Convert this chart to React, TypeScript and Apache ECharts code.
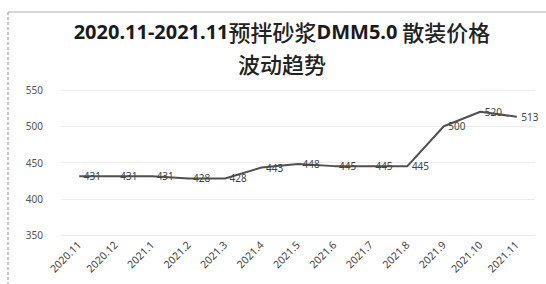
import React, { useEffect, useRef } from "react";
import * as echarts from "echarts";

const categories = [
  "2020.11", "2020.12", "2021.1", "2021.2", "2021.3", "2021.4", "2021.5",
  "2021.6", "2021.7", "2021.8", "2021.9", "2021.10", "2021.11",
];
const prices = [431, 431, 431, 428, 428, 443, 448, 445, 445, 445, 500, 520, 513];
const yMin = 350;
const yMax = 550;
const yStep = 50;

export default function App() {
  const ref = useRef<HTMLDivElement>(null);
  useEffect(() => {
    if (!ref.current) return;
    const chart = echarts.init(ref.current, null, { renderer: "svg" });
    const font = "'Noto Sans', 'Noto Sans CJK SC', sans-serif";
    chart.setOption({
      animation: false,
      backgroundColor: "#ffffff",
      title: {
        left: 277,
        textAlign: "center",
        top: 10,
        text: "{b|2020.11-2021.11}{n|预拌砂浆}{b|DMM5.0}{n| 散装价格}\n{n|波动趋势}",
        textStyle: {
          rich: {
            b: { fontFamily: font, fontWeight: "bold", fontSize: 20, color: "#1a1a1a", lineHeight: 32 },
            n: { fontFamily: "'Noto Sans CJK SC', sans-serif", fontWeight: 500, fontSize: 22, color: "#222", lineHeight: 32 },
          },
        },
      },
      graphic: [
        { type: "line", shape: { x1: 8, y1: 12, x2: 546, y2: 12 }, style: { stroke: "#b0b0b0", lineWidth: 1 } },
        { type: "line", shape: { x1: 8, y1: 12, x2: 8, y2: 284 }, style: { stroke: "#909090", lineWidth: 1, lineDash: [3, 2] } },
      ],
      grid: { left: 61, right: 11, top: 90, bottom: 49, containLabel: false },
      xAxis: {
        type: "category",
        data: categories,
        boundaryGap: true,
        axisLine: { show: false },
        axisTick: { show: false },
        axisLabel: {
          rotate: 45,
          fontSize: 10.5,
          color: "#444",
          fontFamily: font,
          interval: 0,
          margin: 8,
        },
      },
      yAxis: {
        type: "value",
        min: yMin,
        max: yMax,
        interval: yStep,
        axisLine: { show: false },
        axisTick: { show: false },
        axisLabel: { fontSize: 10, color: "#555", fontFamily: font, margin: 18 },
        splitLine: { show: true, lineStyle: { color: "#ececec", width: 1 } },
      },
      series: [
        {
          type: "line",
          data: prices,
          symbol: "circle",
          symbolSize: 1,
          showSymbol: true,
          itemStyle: { color: "rgba(0,0,0,0)" },
          lineStyle: { color: "#505050", width: 2 },
          label: {
            show: true,
            position: "right",
            distance: 4,
            fontSize: 10,
            color: "#444",
            fontFamily: font,
          },
          labelLayout: { hideOverlap: false },
        },
      ],
    });
    return () => chart.dispose();
  }, []);
  return (
    <div
      ref={ref}
      style={{ position: "fixed", left: 0, top: 0, width: 546, height: 284 }}
    />
  );
}
